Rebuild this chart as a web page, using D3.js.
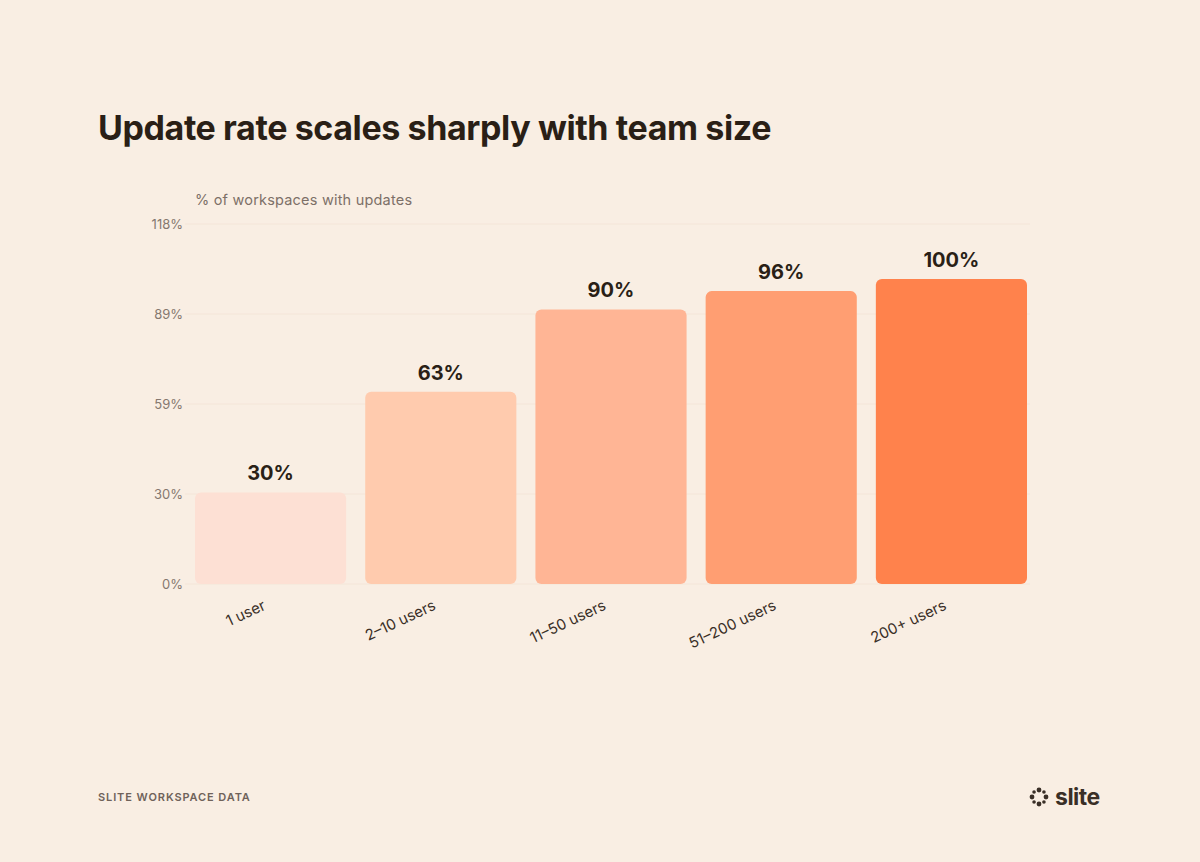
<!DOCTYPE html>
<html>
<head>
<meta charset="utf-8">
<script src="https://cdn.jsdelivr.net/npm/d3@7"></script>
<style>
body { margin: 0; background: #f9eee3; }
svg { display: block; font-family: Inter, "Noto Sans", sans-serif; }
</style>
</head>
<body>
<svg id="chart" width="1200" height="862"></svg>
<script>
var categories = ['1 user', '2–10 users', '11–50 users', '51–200 users', '200+ users'];
var values = [30, 63, 90, 96, 100];
var colors = ['#fde0d4', '#ffcbae', '#ffb595', '#ff9e72', '#ff824c'];
var tickValues = [0, 29.5, 59, 88.5, 118];
var tickLabels = ['0%', '30%', '59%', '89%', '118%'];

var svg = d3.select('#chart');
svg.append('rect').attr('width', 1200).attr('height', 862).attr('fill', '#f9eee3');

svg.append('text').attr('x', 98).attr('y', 140)
    .attr('font-size', 34).attr('font-weight', 700).attr('letter-spacing', -0.4)
    .attr('fill', '#2a1f16').text('Update rate scales sharply with team size');

svg.append('text').attr('x', 195).attr('y', 205)
    .attr('font-size', 14.5).attr('letter-spacing', 0.2).attr('fill', '#7d7068').text('% of workspaces with updates');

var x = d3.scaleBand().domain(categories).range([195, 1027]).paddingInner(0.112).paddingOuter(0);
var y = d3.scaleLinear().domain([0, 118]).range([584, 224]);

// grid + y labels
var g = svg.append('g');
g.selectAll('line').data(tickValues).enter().append('line')
    .attr('x1', 185).attr('x2', 1030)
    .attr('y1', (d) => y(d)).attr('y2', (d) => y(d))
    .attr('stroke', '#f4e5d8').attr('stroke-width', 1);
g.selectAll('text').data(tickValues).enter().append('text')
    .attr('x', 183).attr('y', (d) => y(d) + 5)
    .attr('text-anchor', 'end').attr('font-size', 13).attr('fill', '#85786f')
    .text((d, i) => tickLabels[i]);

// bars
svg.selectAll('.bar').data(values).enter().append('rect')
    .attr('class', 'bar')
    .attr('x', (d, i) => x(categories[i]))
    .attr('y', (d) => y(d))
    .attr('width', x.bandwidth())
    .attr('height', (d) => y(0) - y(d))
    .attr('rx', 6)
    .attr('fill', (d, i) => colors[i]);

svg.selectAll('.val').data(values).enter().append('text')
    .attr('x', (d, i) => x(categories[i]) + x.bandwidth() / 2)
    .attr('y', (d) => y(d) - 12)
    .attr('text-anchor', 'middle').attr('font-size', 20).attr('font-weight', 700)
    .attr('fill', '#2a1f16').text((d) => d + '%');

// x labels
svg.selectAll('.xl').data(categories).enter().append('text')
    .attr('transform', (d) => 'translate(' + (x(d) + x.bandwidth() / 2 - 4) + ',609) rotate(-25)')
    .attr('text-anchor', 'end').attr('font-size', 15).attr('fill', '#3a2f27')
    .text((d) => d);

// footer
svg.append('text').attr('x', 98).attr('y', 801)
    .attr('font-size', 11).attr('font-weight', 600).attr('letter-spacing', 0.9)
    .attr('fill', '#6f625a').text('SLITE WORKSPACE DATA');

var logo = svg.append('g').attr('transform', 'translate(1039,797)');
d3.range(8).forEach((i) => {
    var a = i / 8 * Math.PI * 2;
    logo.append('circle').attr('cx', 7 * Math.cos(a)).attr('cy', 7 * Math.sin(a))
        .attr('r', i % 2 ? 1.8 : 2.4).attr('fill', '#3a2f27');
});
svg.append('text').attr('x', 1055).attr('y', 805)
    .attr('font-size', 23).attr('font-weight', 700).attr('letter-spacing', -0.5)
    .attr('fill', '#3a2f27').text('slite');
</script>
</body>
</html>
